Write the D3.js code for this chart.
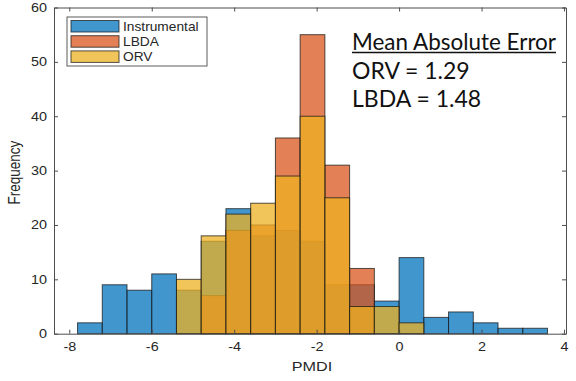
<!DOCTYPE html>
<html>
<head>
<meta charset="utf-8">
<script src="https://cdn.jsdelivr.net/npm/d3@7"></script>
<style>
  body { margin: 0; background: #fff; }
  svg text { font-family: "Liberation Sans", Arial, sans-serif; fill: #262626; }
  .axis path, .axis line { stroke: #4d4d4d; }
  .note text { font-family: Lato, "Open Sans", sans-serif; fill: #111; }
</style>
</head>
<body>
<div id="chart"></div>
<script>
// Data
var binEdges = [-7.8, -7.2, -6.6, -6.0, -5.4, -4.8, -4.2, -3.6, -3.0, -2.4, -1.8, -1.2, -0.6, 0, 0.6, 1.2, 1.8, 2.4, 3.0, 3.6];
var instrumental = [2, 9, 8, 11, 8, 17, 23, 18, 19, 17, 9, 9, 6, 14, 3, 4, 2, 1, 1];
var lbda = [0, 0, 0, 0, 0, 7, 19, 20, 36, 55, 31, 12, 0, 0, 0, 0, 0, 0, 0];
var orv = [0, 0, 0, 0, 10, 18, 22, 24, 29, 40, 25, 5, 5, 2, 0, 0, 0, 0, 0];
var xTicks = [-8, -6, -4, -2, 0, 2, 4];
var yTicks = [0, 10, 20, 30, 40, 50, 60];
var seriesNames = ["Instrumental", "LBDA", "ORV"];
var seriesColors = ["#0072bd", "#d95319", "#edb120"];
var maeTitle = "Mean Absolute Error";
var maeLines = ["ORV = 1.29", "LBDA = 1.48"];

var width = 576, height = 381;
var margins = { top: 7.5, right: 10, bottom: 47.3, left: 54 };
var chartWidth = width - margins.left - margins.right;
var chartHeight = height - margins.top - margins.bottom;
var sx = 1.2; // picture is stretched sideways, so text is too

var svg = d3.select("#chart")
  .append("svg")
  .attr("width", width)
  .attr("height", height);

var chartElement = svg.append("g")
  .attr("transform", "translate(" + margins.left + "," + margins.top + ")");

var xScale = d3.scaleLinear().domain([-8.371, 4.049]).range([0, chartWidth]);
var yScale = d3.scaleLinear().domain([0, 60]).range([chartHeight, 0]);

// bars, drawn in the same order as the legend so ORV ends up on top
var series = [instrumental, lbda, orv];
series.forEach(function(counts, s) {
  var bins = counts.map(function(c, i) {
    return { x0: binEdges[i], x1: binEdges[i + 1], count: c };
  }).filter(function(d) { return d.count > 0; });

  chartElement.append("g")
    .attr("class", "bars series-" + s)
    .selectAll("rect")
    .data(bins)
    .enter()
    .append("rect")
    .attr("x", d => xScale(d.x0))
    .attr("width", d => xScale(d.x1) - xScale(d.x0))
    .attr("y", d => yScale(d.count))
    .attr("height", d => yScale(0) - yScale(d.count))
    .attr("fill", seriesColors[s])
    .attr("fill-opacity", 0.74)
    .attr("stroke", "#1a1a1a")
    .attr("stroke-opacity", 0.75)
    .attr("stroke-width", 1);
});

// axes (MATLAB style: ticks pointing in, box all round)
var plainNum = d => String(d); // hyphen minus, like the original
var xAxisBottom = d3.axisBottom(xScale).tickValues(xTicks).tickFormat(plainNum).tickSizeInner(-4).tickSizeOuter(0).tickPadding(9);
var xAxisTop = d3.axisTop(xScale).tickValues(xTicks).tickSizeInner(-4).tickSizeOuter(0).tickFormat("");
var yAxisLeft = d3.axisLeft(yScale).tickValues(yTicks).tickFormat(plainNum).tickSizeInner(-4).tickSizeOuter(0).tickPadding(7);
var yAxisRight = d3.axisRight(yScale).tickValues(yTicks).tickSizeInner(-4).tickSizeOuter(0).tickFormat("");

var gx = chartElement.append("g")
  .attr("class", "x axis bottom")
  .attr("transform", "translate(0," + chartHeight + ")")
  .call(xAxisBottom);
chartElement.append("g").attr("class", "x axis top").call(xAxisTop);
var gy = chartElement.append("g").attr("class", "y axis left").call(yAxisLeft);
chartElement.append("g")
  .attr("class", "y axis right")
  .attr("transform", "translate(" + chartWidth + ",0)")
  .call(yAxisRight);

chartElement.selectAll(".axis text")
  .attr("font-family", null)
  .attr("font-size", 12)
  .attr("fill", "#262626");
gx.selectAll("text").attr("transform", "scale(" + sx + ",1)");
gy.selectAll("text")
  .attr("x", -7 / sx)
  .attr("transform", "scale(" + sx + ",1)");

// axis labels
svg.append("text")
  .attr("text-anchor", "middle")
  .attr("font-size", 13.5)
  .attr("transform", "translate(" + (margins.left + chartWidth / 2 + 2) + "," + 370.5 + ") scale(" + sx + ",1)")
  .text("PMDI");

svg.append("text")
  .attr("text-anchor", "middle")
  .attr("font-size", 13.5)
  .attr("transform", "translate(20," + (margins.top + chartHeight / 2 + 2) + ") rotate(-90) scale(1," + sx + ")")
  .text("Frequency");

// legend
var legend = svg.append("g").attr("class", "legend").attr("transform", "translate(67,17)");
legend.append("rect")
  .attr("width", 140)
  .attr("height", 49)
  .attr("fill", "#fff")
  .attr("stroke", "#333")
  .attr("stroke-width", 0.8);

var legendItems = legend.selectAll(".item")
  .data(seriesNames)
  .enter()
  .append("g")
  .attr("class", "item")
  .attr("transform", (d, i) => "translate(4," + (3.5 + i * 15.2) + ")");

legendItems.append("rect")
  .attr("width", 48)
  .attr("height", 11.5)
  .attr("fill", (d, i) => seriesColors[i])
  .attr("fill-opacity", 0.74)
  .attr("stroke", "#1a1a1a")
  .attr("stroke-opacity", 0.75);

legendItems.append("text")
  .attr("transform", "translate(52,10.5) scale(1.1,1)")
  .attr("font-size", 12.5)
  .attr("fill", "#111")
  .text(d => d);

// mean absolute error note
var note = svg.append("g").attr("class", "note").attr("transform", "translate(352,0)");
note.append("text")
  .attr("y", 50)
  .attr("font-size", 23)
  .attr("textLength", 204)
  .attr("lengthAdjust", "spacingAndGlyphs")
  .text(maeTitle);
note.append("line")
  .attr("x1", 0)
  .attr("x2", 204)
  .attr("y1", 52.5)
  .attr("y2", 52.5)
  .attr("stroke", "#111")
  .attr("stroke-width", 1.3);
note.selectAll(".mae")
  .data(maeLines)
  .enter()
  .append("text")
  .attr("class", "mae")
  .attr("y", (d, i) => 79 + i * 28.3)
  .attr("font-size", 23)
  .text(d => d);
</script>
</body>
</html>
